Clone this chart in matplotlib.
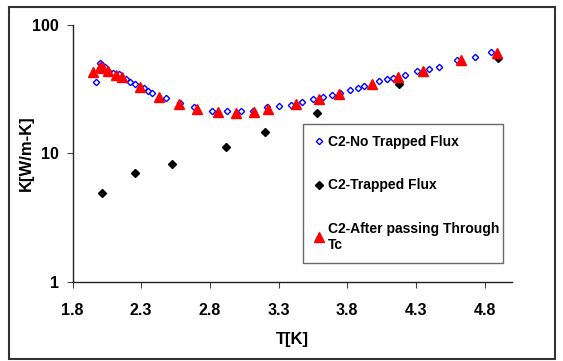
import matplotlib
matplotlib.use("Agg")
import matplotlib.pyplot as plt
from matplotlib.patches import Rectangle
from matplotlib.ticker import FixedLocator, FixedFormatter, NullLocator

plt.rcParams['font.family'] = ['Liberation Sans', 'DejaVu Sans']
plt.rcParams['font.weight'] = 'bold'

# C2 - no trapped flux (open blue diamonds)
t_no = [1.973, 1.998, 2.017, 2.034, 2.058, 2.094, 2.138, 2.187, 2.221, 2.253,
        2.318, 2.35, 2.382, 2.479, 2.586, 2.685, 2.816, 2.925, 3.03, 3.115,
        3.217, 3.307, 3.392, 3.472, 3.548, 3.621, 3.689, 3.749, 3.818, 3.876,
        3.924, 4.033, 4.087, 4.135, 4.223, 4.306, 4.393, 4.471, 4.6, 4.733, 4.847]
k_no = [36.0, 50.3, 48.7, 47.3, 44.0, 42.4, 41.4, 37.7, 36.1, 34.6,
        32.2, 30.7, 29.7, 26.8, 24.6, 22.8, 21.3, 21.3, 21.3, 21.5,
        22.8, 23.4, 23.9, 25.0, 26.4, 27.3, 28.5, 29.4, 31.0, 32.5,
        33.5, 36.3, 37.7, 38.9, 41.1, 43.8, 45.4, 47.3, 53.3, 56.7, 61.1]

# C2 - trapped flux (black diamonds)
t_tr = [2.017, 2.258, 2.527, 2.916, 3.198, 3.581, 4.179, 4.90]
k_tr = [4.9, 7.0, 8.2, 11.2, 14.6, 20.8, 34.7, 55.7]

# C2 - after passing through Tc (red triangles)
t_tc = [1.949, 1.998, 2.02, 2.058, 2.114, 2.16, 2.289, 2.43, 2.578, 2.709,
        2.858, 2.994, 3.12, 3.227, 3.426, 3.596, 3.742, 3.978, 4.172, 4.349,
        4.629, 4.891]
k_tc = [43.3, 47.3, 46.0, 44.0, 40.8, 39.1, 33.0, 27.6, 24.1, 22.2,
        20.9, 20.5, 21.0, 22.3, 24.1, 26.5, 29.0, 34.7, 39.4, 44.1,
        53.1, 60.2]

xticks = [1.8, 2.3, 2.8, 3.3, 3.8, 4.3, 4.8]
yticks = [1, 10, 100]

fig = plt.figure(figsize=(5.63, 3.61), dpi=100)
ax = fig.add_axes([72.5 / 563, 1 - 281.7 / 361, 439.5 / 563, 256.7 / 361])

ax.plot(t_no, k_no, linestyle='none', marker='D', ms=3.2, mfc='white',
        mec='#0000FF', mew=1.0, label='C2-No Trapped Flux', zorder=3)
ax.plot(t_tr, k_tr, linestyle='none', marker='D', ms=4.0, color='black',
        label='C2-Trapped Flux', zorder=2)
ax.plot(t_tc, k_tc, linestyle='none', marker='^', ms=7, color='#FF0000',
        mec='#FF0000', label='C2-After passing Through\nTc', zorder=4)

ax.set_yscale('log')
ax.set_xlim(1.8, 5.0)
ax.set_ylim(1, 100)
ax.xaxis.set_major_locator(FixedLocator(xticks))
ax.xaxis.set_major_formatter(FixedFormatter([str(v) for v in xticks]))
ax.yaxis.set_major_locator(FixedLocator(yticks))
ax.yaxis.set_major_formatter(FixedFormatter([str(v) for v in yticks]))
ax.yaxis.set_minor_locator(NullLocator())

for s in ['top', 'right']:
    ax.spines[s].set_visible(False)
for s in ['left', 'bottom']:
    ax.spines[s].set_color('#222222')
    ax.spines[s].set_linewidth(1.0)
ax.tick_params(direction='out', length=4, width=0.8, color='#444444',
               labelsize=11.5)
ax.tick_params(axis='x', pad=11.5)
ax.tick_params(axis='y', pad=6)
for lab in ax.get_xticklabels() + ax.get_yticklabels():
    lab.set_fontweight('bold')

ax.set_xlabel('T[K]', fontsize=12, fontweight='bold', labelpad=10)
ax.set_ylabel('K[W/m-K]', fontsize=12, fontweight='bold')
ax.yaxis.set_label_coords(-0.088, 0.5)

leg = ax.legend(loc='upper left', bbox_to_anchor=(0.525, 0.0775, 0.4537, 0.5365),
                mode='expand', borderaxespad=0,
                labelspacing=2.1, handlelength=0.6, handletextpad=0.4,
                borderpad=0.8, fancybox=False, frameon=True, edgecolor='#444444',
                prop={'weight': 'bold', 'size': 10})
leg.get_frame().set_linewidth(1.0)

# outer frame around the whole chart
fig.patches.append(Rectangle((9 / 563, 1 - 359 / 361), 546 / 563, 352.3 / 361,
                             transform=fig.transFigure, fill=False,
                             edgecolor='#333333', linewidth=1.5))

fig.savefig('out.png', dpi=100)
